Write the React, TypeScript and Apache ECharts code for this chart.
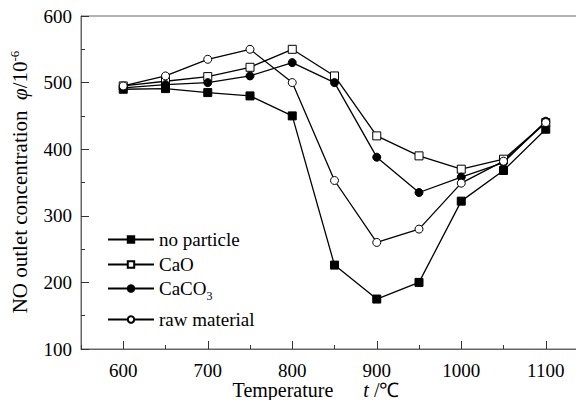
import React, { useEffect, useRef } from "react";
import * as echarts from "echarts";

const temps = [600, 650, 700, 750, 800, 850, 900, 950, 1000, 1050, 1100];
const noParticle = [490, 491, 485, 480, 450, 226, 175, 200, 322, 368, 430];
const caO = [495, 502, 509, 523, 550, 510, 420, 390, 370, 385, 440];
const caCO3 = [492, 497, 500, 510, 530, 500, 388, 335, 358, 380, 442];
const rawMaterial = [495, 510, 535, 550, 500, 353, 260, 280, 349, 382, 440];
const xMajorTicks = [600, 700, 800, 900, 1000, 1100];

const FONT = "Liberation Serif";

export default function App() {
  const ref = useRef<HTMLDivElement>(null);
  useEffect(() => {
    if (!ref.current) return;
    const chart = echarts.init(ref.current, null, { renderer: "svg" });
    const pair = (arr: number[]) => temps.map((t, i) => [t, arr[i]]);
    const axisColor = "#666";
    const mk = (name: string, data: number[], symbol: string, fill: string, size: number) => ({
      name,
      type: "line",
      data: pair(data),
      symbol,
      symbolSize: size,
      showSymbol: true,
      lineStyle: { color: "#000", width: 1.3 },
      itemStyle: { color: fill, borderColor: "#000", borderWidth: 1 },
      emphasis: { disabled: true },
      z: 3,
    });
    const legendRow = (name: string, top: number) => ({
      data: [name],
      left: 107,
      top,
      orient: "vertical",
      itemWidth: 46,
      itemHeight: 8,
      itemGap: 0,
      padding: 0,
      textStyle: {
        fontFamily: FONT,
        fontSize: 19,
        color: "#000",
        rich: {
          n: { fontFamily: FONT, fontSize: 19, color: "#000" },
          s: { fontFamily: FONT, fontSize: 12, color: "#000", padding: [14, 0, 0, 0] },
        },
      },
      formatter: (n: string) => (n === "CaCO3" ? "{n|CaCO}{s|3}" : n),
    });
    chart.setOption({
      animation: false,
      backgroundColor: "#fff",
      textStyle: { fontFamily: FONT },
      grid: {
        left: 81,
        top: 16,
        width: 507,
        height: 333,
        outerBoundsMode: "none",
        containLabel: false,
        show: true,
        borderColor: axisColor,
        borderWidth: 1,
        backgroundColor: "transparent",
      },
      legend: [
        legendRow("no particle", 230),
        legendRow("CaO", 255),
        legendRow("CaCO3", 279),
        legendRow("raw material", 310),
      ],
      xAxis: [
        {
          type: "value",
          min: 550,
          max: 1150,
          interval: 50,
          axisLine: { show: true, onZero: false, lineStyle: { color: axisColor, width: 1 } },
          axisTick: { show: true, inside: true, length: 4, lineStyle: { color: "#333" } },
          axisLabel: { show: false },
          splitLine: { show: false },
        },
        {
          type: "value",
          position: "bottom",
          min: 550,
          max: 1150,
          axisLine: { show: false, onZero: false },
          axisTick: { show: true, inside: true, length: 8, customValues: xMajorTicks, lineStyle: { color: "#333" } },
          axisLabel: {
            show: true,
            customValues: xMajorTicks,
            formatter: (v: number) => String(v),
            margin: 14,
            fontFamily: FONT,
            fontSize: 19,
            lineHeight: 14,
            color: "#000",
          },
          splitLine: { show: false },
        },
      ],
      yAxis: [
        {
          type: "value",
          min: 100,
          max: 600,
          interval: 100,
          axisLine: { show: true, onZero: false, lineStyle: { color: axisColor, width: 1 } },
          axisTick: { show: true, inside: true, length: 8, lineStyle: { color: "#333" } },
          minorTick: { show: true, splitNumber: 2, length: 4, lineStyle: { color: "#333" } },
          axisLabel: {
            margin: 9,
            fontFamily: FONT,
            fontSize: 19,
            lineHeight: 14,
            color: "#000",
            formatter: (v: number) => String(v),
          },
          splitLine: { show: false },
          minorSplitLine: { show: false },
        },
      ],
      graphic: [
        {
          type: "text",
          x: 20,
          y: 182,
          rotation: Math.PI / 2,
          style: {
            text: "{n|NO outlet concentration  }{i|φ}{n|/10}{s|-6}",
            align: "center",
            verticalAlign: "middle",
            rich: {
              n: { fontFamily: FONT, fontSize: 21, fill: "#000" },
              i: { fontFamily: FONT, fontSize: 21, fontStyle: "italic", fill: "#000" },
              s: { fontFamily: FONT, fontSize: 13, fill: "#000", padding: [0, 0, 11, 0] },
            },
          },
        },
        {
          type: "text",
          x: 316,
          y: 390,
          style: {
            text: "{n|Temperature      }{i|t}{n| /℃}",
            align: "center",
            verticalAlign: "middle",
            rich: {
              n: { fontFamily: FONT, fontSize: 20, lineHeight: 16, fill: "#000" },
              i: { fontFamily: FONT, fontSize: 20, lineHeight: 16, fontStyle: "italic", fill: "#000" },
            },
          },
        },
      ],
      series: [
        mk("no particle", noParticle, "rect", "#000", 8),
        mk("CaO", caO, "rect", "#fff", 8),
        mk("CaCO3", caCO3, "circle", "#000", 8),
        mk("raw material", rawMaterial, "circle", "#fff", 8),
      ],
    });
    return () => chart.dispose();
  }, []);
  return <div ref={ref} style={{ width: 584, height: 408, margin: -8 }} />;
}
